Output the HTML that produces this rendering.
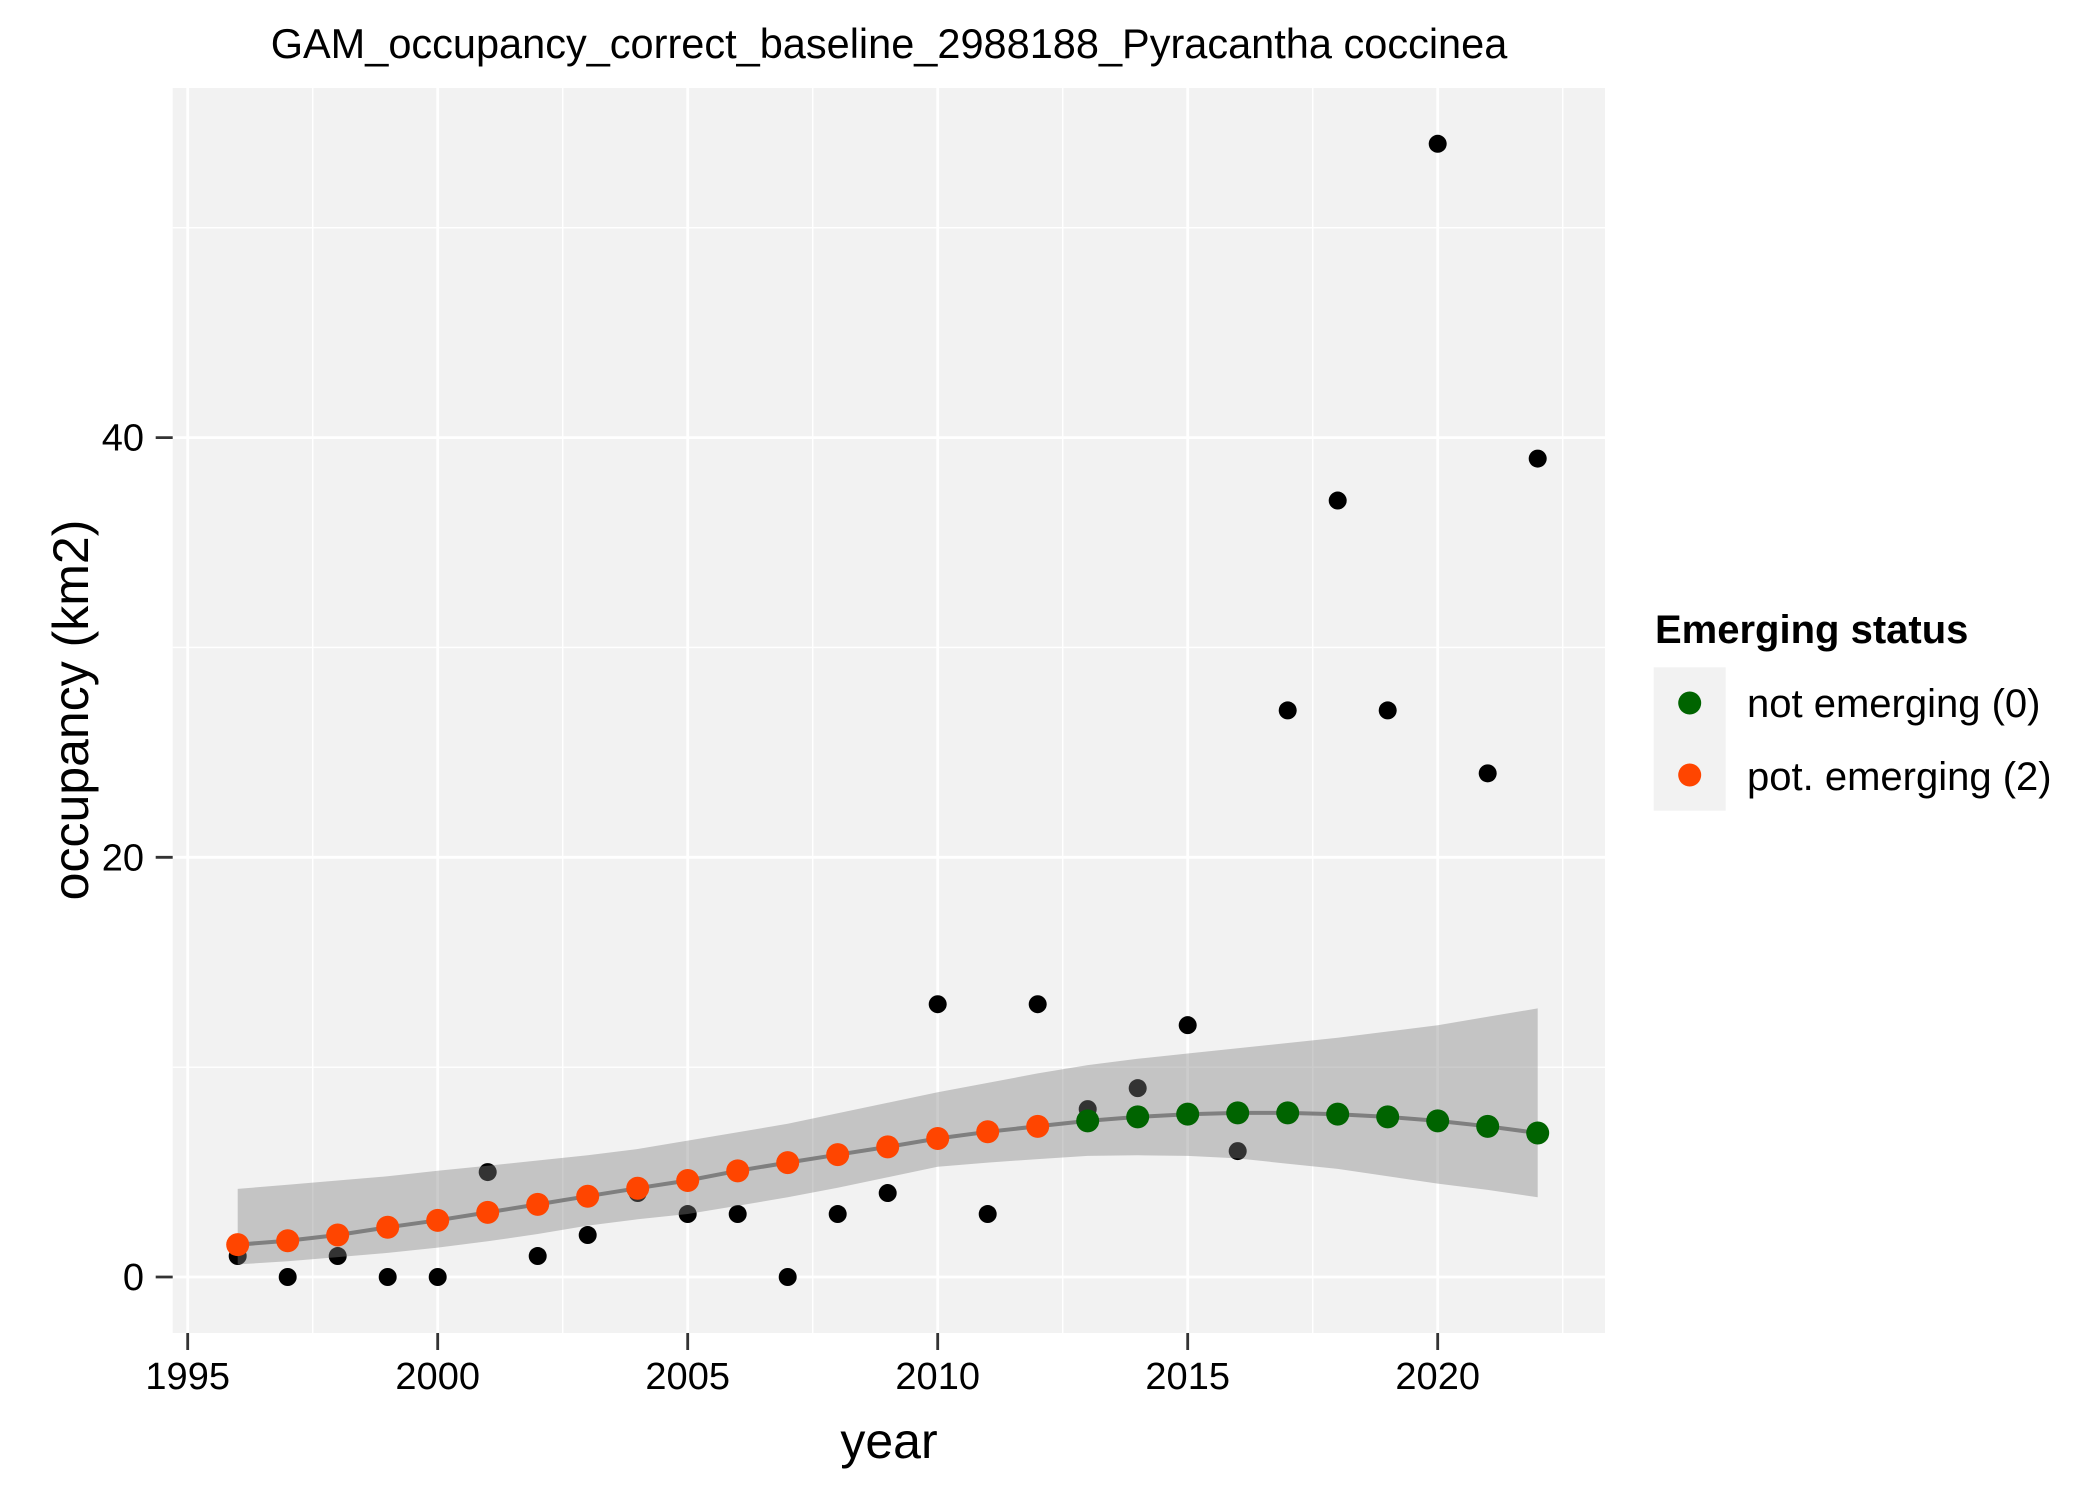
<!DOCTYPE html>
<html><head><meta charset="utf-8"><style>
html,body{margin:0;padding:0;background:#fff;}
svg{display:block;font-family:"Liberation Sans",Arial,sans-serif;}
</style></head><body>
<svg id="chart" width="2100" height="1499" viewBox="0 0 2100 1499" xmlns="http://www.w3.org/2000/svg">
<rect x="0" y="0" width="2100" height="1499" fill="#fff"/>
<text x="889" y="58" font-size="41.5" text-anchor="middle" fill="#000">GAM_occupancy_correct_baseline_2988188_Pyracantha coccinea</text>
<rect x="172.7" y="88" width="1432.3" height="1245" fill="#f2f2f2"/>
<g id="grid"></g>
<g id="obs"></g>
<g id="ribbon"></g>
<g id="fit"></g>
<g id="axes"></g>
<text x="889" y="1458" font-size="50" text-anchor="middle" fill="#000">year</text>
<text transform="translate(88,710) rotate(-90)" font-size="50" text-anchor="middle" fill="#000">occupancy (km2)</text>
<g>
<text x="1655" y="643" font-size="40" font-weight="bold" fill="#000">Emerging status</text>
<rect x="1653.7" y="667.3" width="72" height="71.7" fill="#f2f2f2"/>
<rect x="1653.7" y="739" width="72" height="71.7" fill="#f2f2f2"/>
<circle cx="1689.7" cy="703" r="11.5" fill="#006400"/>
<circle cx="1689.7" cy="775" r="11.5" fill="#ff4500"/>
<text x="1747" y="717" font-size="40" fill="#000">not emerging (0)</text>
<text x="1747" y="790" font-size="40" fill="#000">pot. emerging (2)</text>
</g>
</svg>
<script>
const years = [1996,1997,1998,1999,2000,2001,2002,2003,2004,2005,2006,2007,2008,2009,2010,2011,2012,2013,2014,2015,2016,2017,2018,2019,2020,2021,2022];
const observed = [1,0,1,0,0,5,1,2,4,3,3,0,3,4,13,3,13,8,9,12,6,27,37,27,54,24,39];
const fitted = [1.54,1.73,2.0,2.37,2.7,3.08,3.46,3.85,4.23,4.6,5.06,5.45,5.83,6.2,6.6,6.92,7.18,7.44,7.63,7.76,7.82,7.82,7.76,7.63,7.44,7.18,6.86];
const upper = [4.2,4.4,4.6,4.8,5.06,5.3,5.55,5.8,6.1,6.5,6.9,7.3,7.8,8.3,8.8,9.25,9.7,10.1,10.4,10.65,10.9,11.15,11.4,11.7,12.0,12.4,12.8];
const lower = [0.6,0.75,0.95,1.15,1.4,1.7,2.05,2.45,2.75,3.0,3.4,3.8,4.25,4.75,5.25,5.45,5.62,5.77,5.8,5.77,5.65,5.4,5.15,4.8,4.45,4.15,3.8];
const status = [2,2,2,2,2,2,2,2,2,2,2,2,2,2,2,2,2,0,0,0,0,0,0,0,0,0,0];
const xTicks = [1995,2000,2005,2010,2015,2020];
const xMinor = [1997.5,2002.5,2007.5,2012.5,2017.5,2022.5];
const yTicks = [0,20,40];
const yMinor = [10,30,50];

const NS = 'http://www.w3.org/2000/svg';
const X = v => 187.7 + (v - 1995) * 50;
const Y = v => 1277 - v * 20.985;
const PL = 172.7, PR = 1605, PT = 88, PB = 1333;
function mk(tag, attrs, parent){ const e = document.createElementNS(NS, tag); for (const k in attrs) e.setAttribute(k, attrs[k]); parent.appendChild(e); return e; }

const grid = document.getElementById('grid');
xMinor.forEach(v => { const l = mk('line',{x1:X(v),x2:X(v),y1:PT,y2:PB,stroke:'#fff','stroke-width':1.4},grid);
  
   });
yMinor.forEach(v => { const l = mk('line',{x1:PL,x2:PR,y1:Y(v),y2:Y(v),stroke:'#fff','stroke-width':1.4},grid);
  
   });
xTicks.forEach(v => { const l = mk('line',{x1:X(v),x2:X(v),y1:PT,y2:PB,stroke:'#fff','stroke-width':2.8},grid);
  
   });
yTicks.forEach(v => { const l = mk('line',{x1:PL,x2:PR,y1:Y(v),y2:Y(v),stroke:'#fff','stroke-width':2.8},grid);
  
   });

const obs = document.getElementById('obs');
years.forEach((yr,i) => { const c = mk('circle',{cx:X(yr),cy:Y(observed[i]),r:9,fill:'#000'},obs);
  
   });

const rib = document.getElementById('ribbon');
let d = '';
years.forEach((yr,i) => { d += (i ? 'L' : 'M') + X(yr).toFixed(1) + ',' + Y(upper[i]).toFixed(1); });
for (let i = years.length - 1; i >= 0; i--) d += 'L' + X(years[i]).toFixed(1) + ',' + Y(lower[i]).toFixed(1);
d += 'Z';
const rp = mk('path',{d:d,fill:'#808080','fill-opacity':0.4},rib);


let ld = '';
years.forEach((yr,i) => { ld += (i ? 'L' : 'M') + X(yr).toFixed(1) + ',' + Y(fitted[i]).toFixed(1); });
const lp = mk('path',{d:ld,fill:'none',stroke:'#7f7f7f','stroke-width':4},rib);



const fit = document.getElementById('fit');
years.forEach((yr,i) => { const c = mk('circle',{cx:X(yr),cy:Y(fitted[i]),r:11.5,fill:status[i]===0?'#006400':'#ff4500'},fit);
  
   });

const axes = document.getElementById('axes');
xTicks.forEach(v => {
  const t = mk('line',{x1:X(v),x2:X(v),y1:PB,y2:PB+17,stroke:'#333','stroke-width':2.8},axes);
  
  
  const l = mk('text',{x:X(v),y:1389,'font-size':38,'text-anchor':'middle',fill:'#000'},axes);
  l.textContent = v;
  
  
});
yTicks.forEach(v => {
  const t = mk('line',{x1:PL-17,x2:PL,y1:Y(v),y2:Y(v),stroke:'#333','stroke-width':2.8},axes);
  
  
  const l = mk('text',{x:144,y:Y(v)+13,'font-size':38,'text-anchor':'end',fill:'#000'},axes);
  l.textContent = v;
  
  
});
</script>
</body></html>
